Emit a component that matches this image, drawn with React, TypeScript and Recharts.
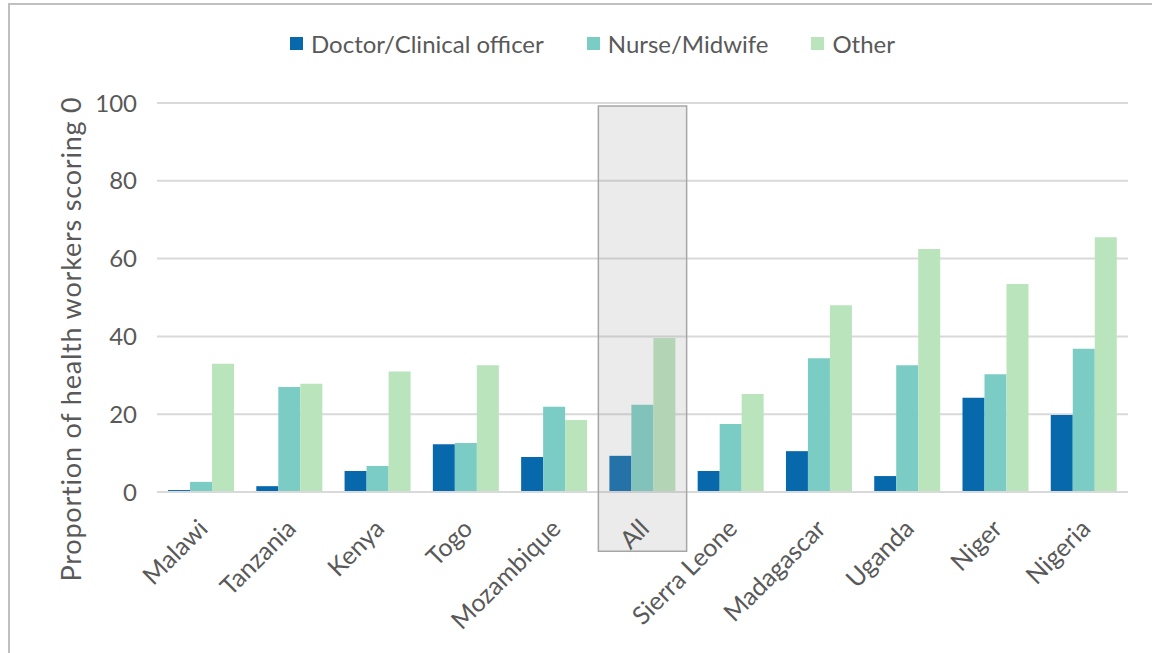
import React from 'react';
import { BarChart, Bar, XAxis, YAxis, CartesianGrid, Legend, ReferenceArea } from 'recharts';

const categories = ['Malawi', 'Tanzania', 'Kenya', 'Togo', 'Mozambique', 'All', 'Sierra Leone', 'Madagascar', 'Uganda', 'Niger', 'Nigeria'];
const doctor = [0.5, 1.5, 5.4, 12.3, 9.0, 9.3, 5.4, 10.5, 4.1, 24.2, 19.8];
const nurse = [2.6, 27.0, 6.7, 12.6, 21.9, 22.4, 17.5, 34.4, 32.6, 30.3, 36.8];
const other = [33.0, 27.8, 31.0, 32.6, 18.5, 39.6, 25.2, 48.0, 62.5, 53.5, 65.5];
const yTicks = [0, 20, 40, 60, 80, 100];
const seriesKeys = ['doctor', 'nurse', 'other'];
const seriesNames = ['Doctor/Clinical officer', 'Nurse/Midwife', 'Other'];
const seriesColors = ['#0868ac', '#7bccc4', '#bae4bc'];
const highlightCategory = 'All';
const yTitle = 'Proportion of health workers scoring 0';

const data = categories.map((c, i) => ({ name: c, doctor: doctor[i], nurse: nurse[i], other: other[i] }));

const FONT = 'Lato, "Open Sans", sans-serif';
const TEXT = '#595959';

const XTick = (props: any) => {
  const { x, y, payload } = props;
  return (
    <g transform={`translate(${x + 2},${y + 24})`}>
      <text x={0} y={0} dy="0.35em" textAnchor="end" transform="rotate(-45)" fill={TEXT} fontSize={25} fontFamily={FONT}>
        {payload.value}
      </text>
    </g>
  );
};

const LegendContent = (props: any) => {
  const { payload } = props;
  return (
    <div style={{ display: 'flex', alignItems: 'center', fontFamily: FONT, fontSize: 24, color: TEXT, whiteSpace: 'nowrap', height: 27 }}>
      {(payload || []).map((p: any, i: number) => (
        <div key={i} style={{ display: 'flex', alignItems: 'center', marginRight: 43 }}>
          <div style={{ width: 13, height: 13, background: p.color, marginRight: 8 }} />
          <span>{p.value}</span>
        </div>
      ))}
    </div>
  );
};

const YTitle = (props: any) => {
  const cx = 70;
  const cy = 339;
  return (
    <text x={cx} y={cy} transform={`rotate(-90, ${cx}, ${cy})`} textAnchor="middle" dominantBaseline="central" fill={TEXT} fontSize={27} letterSpacing={0.8} fontFamily={FONT}>
      {yTitle}
    </text>
  );
};

export default function App() {
  return (
    <div style={{ position: 'absolute', left: 0, top: 0, width: 1152, height: 653, background: '#fff', overflow: 'hidden' }}>
      <div style={{ position: 'absolute', left: 8, top: 3, width: 1144, height: 650, borderTop: '2px solid #bfbfbf', borderLeft: '2px solid #bfbfbf', boxSizing: 'border-box' }} />
      <div style={{ position: 'absolute', left: 0, top: 0 }}>
        <BarChart width={1152} height={653} data={data} margin={{ top: 76, right: 24, bottom: 0, left: 0 }} barGap={0} barCategoryGap="12.5%">
          <CartesianGrid vertical={false} stroke="#d9d9d9" strokeWidth={2} />
          <XAxis dataKey="name" interval={0} tickLine={false} axisLine={{ stroke: '#d9d9d9', strokeWidth: 2 }} tick={<XTick />} height={161} />
          <YAxis domain={[0, 100]} ticks={yTicks} width={157} tickLine={false} axisLine={false} tickSize={6} tickMargin={14}
            tick={{ fill: TEXT, fontSize: 24, fontFamily: FONT }} label={<YTitle />} />
          <Legend verticalAlign="top" content={<LegendContent />} wrapperStyle={{ position: 'absolute', left: 290, top: 30, width: 'auto' }} />
          {seriesKeys.map((k, i) => (
            <Bar key={k} dataKey={k} name={seriesNames[i]} fill={seriesColors[i]} isAnimationActive={false} />
          ))}
          <ReferenceArea x1={highlightCategory} x2={highlightCategory} y1={-15.2} y2={99.2} ifOverflow="visible"
            fill="#9a9a9a" fillOpacity={0.2} stroke="#a6a6a6" strokeWidth={1.5} zIndex={1000} />
        </BarChart>
      </div>
    </div>
  );
}
